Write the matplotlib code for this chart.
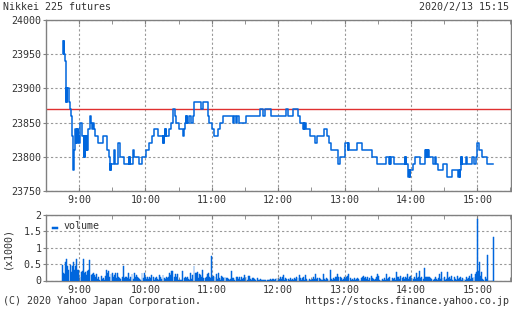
import matplotlib
matplotlib.use("Agg")
import matplotlib.pyplot as plt
import numpy as np

# ---------------- data ----------------
title_left = "Nikkei 225 futures"
title_right = "2020/2/13 15:15"
footer_left = "(C) 2020 Yahoo Japan Corporation."
footer_right = "https://stocks.finance.yahoo.co.jp"
prev_close = 23870

hour_ticks = [9, 10, 11, 12, 13, 14, 15]
hour_labels = ["9:00", "10:00", "11:00", "12:00", "13:00", "14:00", "15:00"]
price_ticks = [23750, 23800, 23850, 23900, 23950, 24000]
vol_ticks = [0, 0.5, 1, 1.5, 2]
vol_tick_labels = ["0", "0.5", "1", "1.5", "2"]

# price change points: minutes after 8:45, price
price_t = [0.5, 0.9, 1.3, 1.7, 2.2, 3.3, 3.6, 3.9, 4.2, 6.0, 6.6, 7.5, 9.0, 9.9, 10.2, 10.5, 10.8,
           11.6, 12.0, 12.4, 12.8, 13.2, 13.6, 14.0, 14.5, 15.0, 15.6, 17.4, 18.0, 19.5, 19.8, 20.1,
           20.4, 21.6, 22.0, 22.4, 22.8, 23.4, 24.6, 26.1, 27.0, 27.3, 27.6, 28.0, 28.4, 29.4, 32.1,
           36.6, 40.5, 42.0, 42.9, 43.4, 43.9, 44.4, 46.5, 47.4, 50.1, 51.9, 55.8, 60.0, 60.4, 60.8,
           61.2, 63.6, 65.1, 69.0, 71.9, 75.2, 78.2, 80.9, 83.3, 86.3, 90.8, 91.3, 91.8, 92.3, 92.6,
           93.0, 93.4, 93.9, 96.3, 98.0, 99.8, 102.0, 103.1, 105.8, 108.8, 109.2, 109.5, 110.0,
           111.0, 111.6, 112.0, 112.4, 112.8, 114.2, 116.6, 117.8, 119.3, 125.4, 126.8, 131.3,
           132.8, 135.3, 137.4, 140.3, 142.5, 144.8, 153.8, 155.3, 156.8, 157.8, 159.9, 166.4,
           178.8, 181.7, 183.5, 188.9, 202.4, 204.2, 208.5, 213.3, 214.8, 217.7, 218.1, 218.5,
           219.3, 220.5, 224.1, 228.3, 229.8, 236.6, 238.8, 240.9, 242.7, 249.2, 250.5, 255.3,
           258.2, 258.6, 259.0, 266.3, 270.8, 280.0, 284.3, 292.5, 295.5, 296.0, 296.5, 297.3,
           299.6, 309.3, 309.8, 310.3, 310.8, 312.2, 312.8, 313.3, 313.8, 314.4, 316.7, 318.9,
           323.4, 327.9, 328.4, 328.9, 329.4, 329.9, 330.4, 330.9, 331.5, 335.4, 336.5, 337.5,
           339.9, 343.8, 348.0, 351.8, 357.9, 358.5, 359.0, 359.4, 360.3, 360.6, 360.9, 361.2,
           364.5, 364.8, 365.1, 365.6, 369.8, 372.3, 373.5, 374.4, 376.5, 378.9, 383.4, 389.4]
price_v = [23970, 23950, 23970, 23950, 23940, 23880, 23900, 23880, 23900, 23880, 23870, 23860,
           23830, 23780, 23810, 23780, 23810, 23840, 23820, 23840, 23830, 23840, 23820, 23840,
           23830, 23820, 23850, 23840, 23830, 23800, 23830, 23800, 23830, 23810, 23830, 23810,
           23830, 23840, 23860, 23850, 23840, 23850, 23840, 23850, 23840, 23830, 23820, 23830,
           23810, 23800, 23780, 23790, 23780, 23790, 23810, 23790, 23820, 23800, 23790, 23800,
           23790, 23800, 23790, 23810, 23800, 23790, 23800, 23810, 23820, 23830, 23840, 23830,
           23820, 23830, 23820, 23830, 23840, 23830, 23840, 23830, 23840, 23850, 23870, 23860,
           23850, 23840, 23830, 23840, 23830, 23840, 23850, 23860, 23850, 23860, 23850, 23860,
           23850, 23860, 23880, 23870, 23880, 23860, 23850, 23840, 23830, 23840, 23850, 23860,
           23850, 23860, 23850, 23860, 23850, 23860, 23870, 23860, 23870, 23860, 23870, 23860,
           23870, 23860, 23850, 23840, 23850, 23840, 23850, 23840, 23830, 23820, 23830, 23840,
           23830, 23820, 23810, 23790, 23800, 23820, 23810, 23820, 23810, 23820, 23810, 23800,
           23790, 23800, 23790, 23800, 23790, 23800, 23790, 23800, 23790, 23800, 23790, 23780,
           23770, 23780, 23770, 23780, 23790, 23800, 23790, 23810, 23800, 23810, 23800, 23810,
           23800, 23810, 23800, 23790, 23800, 23790, 23780, 23790, 23770, 23780, 23770, 23780,
           23770, 23780, 23800, 23790, 23800, 23790, 23800, 23790, 23800, 23790, 23800, 23790,
           23800, 23820, 23810, 23800, 23790, 23790]

# volume per minute from 8:45 to 15:15 (thousands)
vol_a = [0.48, 0.22, 0.20, 0.56, 0.66, 0.43, 0.33, 0.48,
         0.25, 0.43, 0.56, 0.33, 0.45, 0.66, 0.33, 0.33,
         0.12, 0.26, 0.28, 0.66, 0.22, 0.26, 0.17, 0.28,
         0.33, 0.63, 0.17, 0.20, 0.22, 0.17, 0.12, 0.19,
         0.04, 0.10, 0.02, 0.15, 0.04, 0.07, 0.02, 0.14,
         0.31, 0.22, 0.28, 0.12, 0.19, 0.24, 0.12, 0.17,
         0.22, 0.07, 0.24, 0.12, 0.07, 0.04, 0.12, 0.45,
         0.07, 0.12, 0.12, 0.07, 0.24, 0.04, 0.12, 0.19,
         0.04, 0.22, 0.12, 0.17, 0.12, 0.07, 0.04, 0.02,
         0.24, 0.07, 0.24, 0.12, 0.04, 0.12, 0.04, 0.12,
         0.07, 0.17, 0.12, 0.02, 0.09, 0.12, 0.04, 0.02,
         0.17, 0.12, 0.04, 0.17, 0.07, 0.04, 0.12, 0.07,
         0.12, 0.24, 0.17, 0.28, 0.30]
vol_b = [0.12, 0.19, 0.12, 0.20, 0.02, 0.02, 0.02, 0.02, 0.28,
         0.07, 0.12, 0.07, 0.12, 0.04, 0.02, 0.22, 0.04,
         0.17, 0.45, 0.22, 0.24, 0.26, 0.07, 0.20, 0.17,
         0.12, 0.33, 0.07, 0.07, 0.12, 0.20, 0.22, 0.12,
         0.07, 0.75, 0.12, 0.14, 0.12, 0.19, 0.04, 0.22,
         0.07, 0.02, 0.14, 0.12, 0.07, 0.12, 0.09, 0.07,
         0.04, 0.02, 0.04, 0.30, 0.07, 0.07, 0.02, 0.10,
         0.12, 0.04, 0.12, 0.02, 0.12, 0.04, 0.09, 0.17,
         0.12, 0.02, 0.14, 0.14, 0.04, 0.02, 0.07, 0.09,
         0.04, 0.02, 0.07, 0.02, 0.02, 0.04, 0.02, 0.02,
         0.02, 0.02, 0.02, 0.02, 0.02, 0.02, 0.04, 0.02,
         0.04, 0.04, 0.02, 0.04, 0.09, 0.02, 0.04, 0.12,
         0.04, 0.12, 0.17, 0.02, 0.09, 0.04]
vol_c = [0.04, 0.02, 0.07, 0.02, 0.04, 0.02, 0.07, 0.04, 0.12, 0.07,
         0.17, 0.07, 0.02, 0.07, 0.12, 0.02, 0.17, 0.04, 0.02, 0.04,
         0.02, 0.02, 0.04, 0.12, 0.04, 0.20, 0.04, 0.09, 0.09, 0.04,
         0.02, 0.02, 0.20, 0.04, 0.02, 0.07, 0.04, 0.02, 0.33, 0.04,
         0.02, 0.07, 0.04, 0.12, 0.12, 0.20, 0.12, 0.12, 0.09, 0.02,
         0.04, 0.12, 0.04, 0.12, 0.14, 0.20, 0.07, 0.02, 0.04, 0.02,
         0.07, 0.02, 0.04, 0.07, 0.04, 0.02, 0.07, 0.12, 0.14, 0.07,
         0.12, 0.04, 0.12, 0.02, 0.09, 0.14, 0.07, 0.04, 0.02, 0.04,
         0.12, 0.20, 0.14, 0.02, 0.02, 0.04, 0.02, 0.07, 0.02, 0.19,
         0.04, 0.09, 0.12, 0.02, 0.07, 0.04, 0.07, 0.02, 0.27, 0.12]
vol_d = [0.12, 0.05, 0.15, 0.07, 0.10, 0.04, 0.12, 0.07, 0.20, 0.05,
         0.10, 0.15, 0.07, 0.04, 0.10, 0.05, 0.22, 0.07, 0.12, 0.30,
         0.07, 0.12, 0.05, 0.37, 0.10, 0.12, 0.12, 0.12, 0.10, 0.07,
         0.04, 0.02, 0.04, 0.10, 0.04, 0.02, 0.07, 0.20, 0.04, 0.25,
         0.07, 0.10, 0.02, 0.04, 0.27, 0.07, 0.12, 0.04, 0.15, 0.02,
         0.10, 0.04, 0.02, 0.15, 0.04, 0.07, 0.12, 0.02, 0.07, 0.04,
         0.02, 0.12, 0.04, 0.07, 0.15, 0.04, 0.20, 0.07, 0.10, 0.20,
         0.25, 1.88, 0.30, 0.56, 0.15, 0.26, 0.05, 0.02, 0.10, 0.04,
         0.78, 0.0, 0.0, 0.0, 0.0, 0.0, 1.34]
volume = vol_a + vol_b + vol_c + vol_d

# ---------------- style ----------------
BLUE = "#0066dd"
RED = "#e03030"
GRID = "#999999"
SPINE = "#808080"
TXT = "#333333"
FONT = "DejaVu Sans Mono"
FS = 7.2

plt.rcParams["font.family"] = FONT
fig = plt.figure(figsize=(5.12, 3.10), dpi=100)

L, R = 45.7 / 512, 510.5 / 512
ax = fig.add_axes([L, 1 - 191 / 310, R - L, (191 - 20) / 310])
axv = fig.add_axes([L, 1 - 280.5 / 310, R - L, (280.5 - 215) / 310])

start = 8.75
pt = [start + t / 60 for t in price_t]
ax.plot(pt, price_v, drawstyle="steps-post", color=BLUE, lw=1.1, zorder=3)
ax.axhline(prev_close, color=RED, lw=1.0, zorder=2)

vt = [start + i / 60 for i in range(len(volume))]
axv.bar(vt, volume, width=0.85 / 60, color=BLUE, edgecolor=BLUE, linewidth=0.35,
        zorder=3, label="volume")

for a in (ax, axv):
    a.set_xlim(8.5, 15.5)
    a.set_xticks(hour_ticks)
    a.set_xticks([8.5 + 0.5 * k for k in range(15)], minor=True)
    a.grid(True, which="major", color=GRID, lw=0.8, linestyle=(0, (2, 2)))
    for s in a.spines.values():
        s.set_color(SPINE)
        s.set_linewidth(1.0)
    a.tick_params(axis="x", which="both", direction="in", top=True, length=3,
                  color=SPINE, labelsize=FS, labelcolor=TXT, pad=3)
    a.tick_params(axis="y", which="both", direction="out", length=2,
                  color=SPINE, labelsize=FS, labelcolor=TXT, pad=1)

ax.set_ylim(23750, 24000)
ax.set_yticks(price_ticks)
ax.set_xticklabels(hour_labels)
axv.set_ylim(0, 2)
axv.set_yticks(vol_ticks)
axv.set_yticklabels(vol_tick_labels)
axv.set_xticklabels(hour_labels)
axv.set_ylabel("(x1000)", fontsize=FS, color=TXT, labelpad=8)

leg = axv.legend(loc="upper left", frameon=False, fontsize=FS, handlelength=0.6,
                 handletextpad=0.6, borderaxespad=0.2, labelcolor=TXT)
for h in leg.legend_handles:
    h.set_height(1.2)

fig.text(3 / 512, 1 - 7 / 310, title_left, fontsize=FS, color=TXT, va="center", ha="left")
fig.text(509 / 512, 1 - 7 / 310, title_right, fontsize=FS, color=TXT, va="center", ha="right")
fig.text(3 / 512, 1 - 301 / 310, footer_left, fontsize=FS, color=TXT, va="center", ha="left")
fig.text(509 / 512, 1 - 301 / 310, footer_right, fontsize=FS, color=TXT, va="center", ha="right")

fig.savefig("out.png", dpi=100)
